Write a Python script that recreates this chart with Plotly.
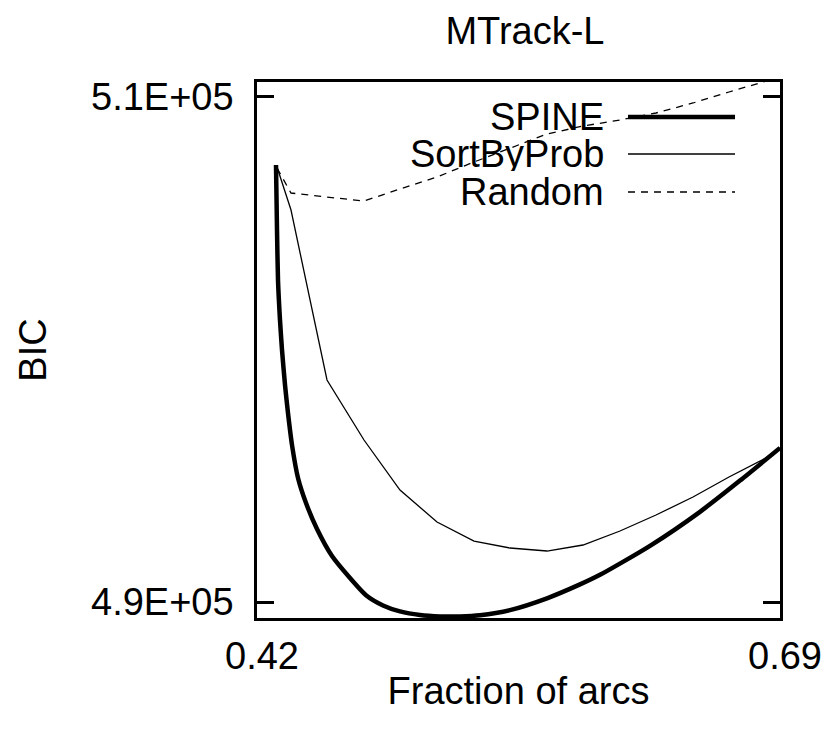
import plotly.graph_objects as go

# ---------------- data ----------------
spine_x = [0.42981, 0.43033, 0.43084, 0.43187, 0.43291, 0.43446, 0.43600, 0.43807,
           0.44117, 0.44530, 0.45098, 0.45872, 0.46801, 0.47627, 0.48505, 0.49383,
           0.50415, 0.51448, 0.52480, 0.53512, 0.55061, 0.56971, 0.58675, 0.59707,
           0.62289, 0.64870, 0.66935, 0.69000]
spine_y = [507297, 504724, 502745, 501162, 499974, 498589, 497480, 496214,
           494908, 493918, 492889, 491820, 490950, 490269, 489865, 489628,
           489485, 489430, 489430, 489477, 489679, 490146, 490696, 491076,
           492224, 493570, 494805, 496100]

grid_x = [0.43033, 0.43755, 0.45614, 0.47524, 0.49382, 0.51293, 0.53203, 0.55061,
          0.56971, 0.58830, 0.60740, 0.62598, 0.64509, 0.66367, 0.68277, 0.69000]
sortbyprob_y = [507217, 505515, 498787, 496412, 494433, 493166, 492414, 492137,
                492018, 492256, 492810, 493443, 494156, 494947, 495699, 496100]
random_y = [507178, 506188, 506030, 505872, 506347, 506822, 507415, 507969,
            508524, 508840, 509078, 509355, 509751, 510186, 510621, 510780]

series_names = ["SPINE", "SortByProb", "Random"]
x_ticks = [0.42, 0.69]
x_ticklabels = ["0.42", "0.69"]
y_ticks = [490000, 510000]
y_ticklabels = ["4.9E+05", "5.1E+05"]

FONT = "Liberation Sans, Arial, Helvetica, sans-serif"
FS = 38
OFF = 8  # page body margin of the html page

W, H = 838 - OFF, 730 - OFF

fig = go.Figure()
fig.add_trace(go.Scatter(x=spine_x, y=spine_y, mode="lines", name=series_names[0],
                         line=dict(color="black", width=4.5, shape="spline", smoothing=0.6)))
fig.add_trace(go.Scatter(x=grid_x, y=sortbyprob_y, mode="lines", name=series_names[1],
                         line=dict(color="black", width=1.3)))
fig.add_trace(go.Scatter(x=grid_x, y=random_y, mode="lines", name=series_names[2],
                         line=dict(color="black", width=1.3, dash="7px,6px")))

# manual gnuplot-style legend (text right-aligned, sample to the right)
leg_y = [0.9347, 0.8657, 0.7948]
leg_styles = [dict(width=4.5), dict(width=1.3), dict(width=1.3, dash="7px,6px")]
for name, yy, st in zip(series_names, leg_y, leg_styles):
    fig.add_annotation(x=0.6654, y=yy, xref="paper", yref="paper", text=name,
                       showarrow=False, xanchor="right", yanchor="middle",
                       height=34, valign="middle", borderpad=0,
                       font=dict(family=FONT, size=FS, color="black"))
    fig.add_shape(type="line", xref="paper", yref="paper", x0=0.7094, x1=0.9140,
                  y0=yy, y1=yy, line=dict(color="black", **st))

fig.update_layout(
    width=W, height=H,
    margin=dict(l=257 - OFF, r=58, t=82 - OFF, b=112),
    paper_bgcolor="white", plot_bgcolor="white",
    showlegend=False,
    font=dict(family=FONT, size=FS, color="black"),
    title=dict(text="MTrack-L", x=(525 - OFF) / W, xref="container", xanchor="center",
               y=1 - (31 - OFF) / H, yref="container", yanchor="middle",
               font=dict(family=FONT, size=FS, color="black")),
)
fig.update_xaxes(
    range=[0.42, 0.69], tickmode="array", tickvals=x_ticks, ticktext=x_ticklabels,
    ticks="inside", ticklen=17, tickwidth=2.5, tickcolor="black",
    showline=True, linewidth=2.5, linecolor="black", mirror="ticks",
    showgrid=False, zeroline=False, ticklabelstandoff=3, ticklabelshift=5,
    title=dict(text="Fraction of arcs", standoff=2, font=dict(family=FONT, size=FS)),
)
fig.update_yaxes(
    range=[489367, 510582], tickmode="array", tickvals=y_ticks, ticktext=y_ticklabels,
    ticks="inside", ticklen=17, tickwidth=2.5, tickcolor="black",
    showline=True, linewidth=2.5, linecolor="black", mirror="ticks",
    showgrid=False, zeroline=False, ticklabelstandoff=13,
    title=dict(text="BIC", standoff=33, font=dict(family=FONT, size=FS)),
)

fig.write_html("out.html")
